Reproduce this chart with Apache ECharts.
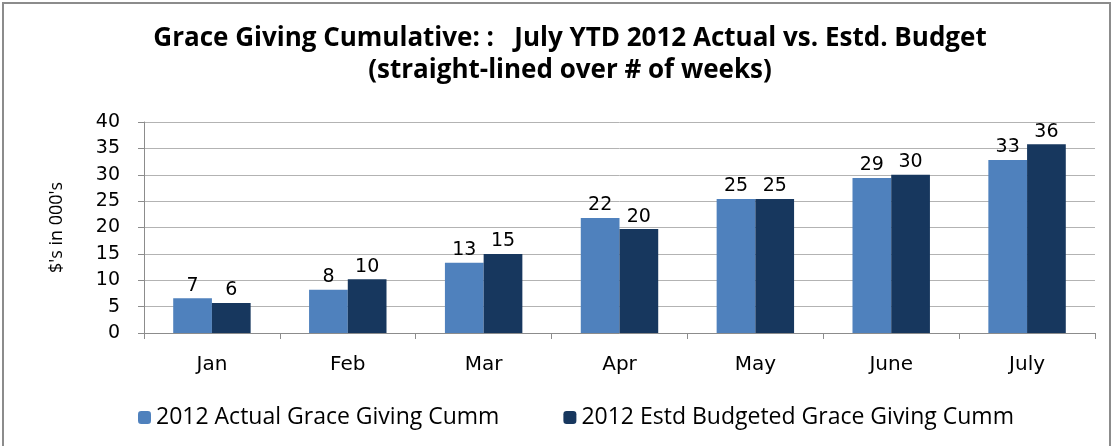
<!DOCTYPE html>
<html>
<head>
<meta charset="utf-8">
<script src="https://cdn.jsdelivr.net/npm/echarts@6/dist/echarts.min.js"></script>
<style>
  html, body { margin: 0; padding: 0; background: #fff; }
  #chart { width: 1116px; height: 446px; }
</style>
</head>
<body>
<div id="chart"></div>
<script>
// data
const months = ["Jan", "Feb", "Mar", "Apr", "May", "June", "July"];
const actual = [6.6, 8.2, 13.3, 21.8, 25.4, 29.4, 32.8];
const budget = [5.7, 10.2, 15.0, 19.7, 25.4, 30.0, 35.8];
const seriesNames = ["2012 Actual Grace Giving Cumm", "2012 Estd Budgeted Grace Giving Cumm"];

const chart = echarts.init(document.getElementById("chart"));
const labelFont = "DejaVu Sans";
const textFont = "'Open Sans', 'Liberation Sans Narrow', sans-serif";

chart.setOption({
  animation: false,
  title: {
    text: "Grace Giving Cumulative: :   July YTD 2012 Actual vs. Estd. Budget\n(straight-lined over # of weeks)",
    left: 565,
    textAlign: "center",
    top: 18,
    textStyle: {
      fontFamily: textFont,
      fontWeight: "bold",
      fontSize: 26,
      lineHeight: 32,
      color: "#000"
    }
  },
  graphic: [{
    type: "rect",
    shape: { x: 3, y: 3, width: 1107, height: 450 },
    style: { fill: "none", stroke: "#8c8c8c", lineWidth: 2 },
    silent: true
  }],
  legend: {
    bottom: 12,
    left: 133,
    itemWidth: 13,
    itemHeight: 13,
    itemGap: 64,
    textStyle: { fontFamily: textFont, fontSize: 23, color: "#000" },
    data: seriesNames
  },
  grid: { left: 144, right: 21, top: 122, bottom: 113 },
  xAxis: {
    type: "category",
    data: months,
    axisLine: { lineStyle: { color: "#8c8c8c" } },
    axisTick: { show: true, length: 6, lineStyle: { color: "#8c8c8c" } },
    axisLabel: { fontFamily: labelFont, fontSize: 20, color: "#000", margin: 22 }
  },
  yAxis: {
    type: "value",
    min: 0,
    max: 40,
    interval: 5,
    name: "$'s in 000's",
    nameLocation: "middle",
    nameGap: 78,
    nameTextStyle: { fontFamily: textFont, fontSize: 18, color: "#000" },
    axisLine: { show: true, lineStyle: { color: "#8c8c8c" } },
    axisTick: { show: true, length: 6, lineStyle: { color: "#8c8c8c" } },
    axisLabel: { fontFamily: labelFont, fontSize: 19, color: "#000", margin: 24 },
    splitLine: { lineStyle: { color: "#b3b3b3" } }
  },
  series: [
    {
      name: seriesNames[0],
      type: "bar",
      data: actual,
      barGap: "0%",
      barCategoryGap: "43%",
      itemStyle: { color: "#4f81bd" },
      label: {
        show: true, position: "top", distance: 3,
        fontFamily: labelFont, fontSize: 19, color: "#000",
        formatter: (p) => Math.round(p.value)
      }
    },
    {
      name: seriesNames[1],
      type: "bar",
      data: budget,
      itemStyle: { color: "#17375e" },
      label: {
        show: true, position: "top", distance: 3,
        fontFamily: labelFont, fontSize: 19, color: "#000",
        formatter: (p) => Math.round(p.value)
      }
    }
  ]
});
</script>
</body>
</html>
